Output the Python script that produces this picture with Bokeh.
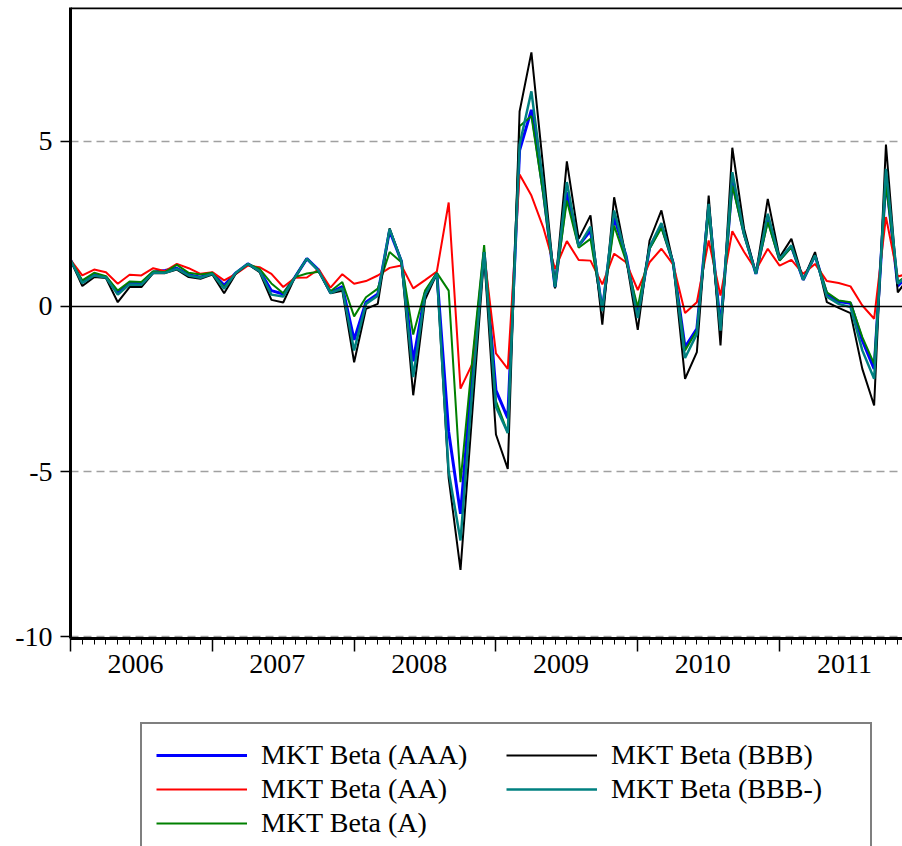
from bokeh.plotting import figure
from bokeh.layouts import column
from bokeh.models import (Range1d, FixedTicker, LinearAxis, Span, Legend,
                          LegendItem, ColumnDataSource, Grid)
from bokeh.embed import file_html
from bokeh.resources import INLINE

# ---------------- data (monthly, Jan 2006 .. Dec 2011) ----------------
month_index = list(range(72))
year_labels = ["2006", "2007", "2008", "2009", "2010", "2011"]

beta_aaa = [1.41, 0.74, 0.96, 0.89, 0.43, 0.71, 0.69, 1.04, 1.09, 1.16, 0.96, 0.89,
            1.01, 0.64, 1.02, 1.29, 1.09, 0.48, 0.38, 0.89, 1.45, 1.10, 0.42, 0.60,
            -1.01, 0.13, 0.38, 2.30, 1.37, -1.66, 0.40, 1.00, -3.80, -6.28, -2.00, 1.65,
            -2.54, -3.38, 4.73, 5.96, 3.50, 0.59, 3.46, 1.85, 2.30, -0.12, 2.71, 1.55,
            -0.30, 1.78, 2.45, 1.31, -1.23, -0.68, 3.01, -0.63, 3.77, 2.20, 0.99, 2.66,
            1.42, 1.82, 0.81, 1.55, 0.38, 0.15, 0.10, -1.03, -1.89, 3.87, 0.62, 1.00]
beta_aa = [1.41, 0.94, 1.12, 1.04, 0.69, 0.96, 0.94, 1.16, 1.07, 1.29, 1.16, 0.99,
           1.04, 0.79, 0.99, 1.24, 1.19, 0.99, 0.59, 0.87, 0.88, 1.13, 0.57, 0.98,
           0.69, 0.77, 0.94, 1.17, 1.24, 0.55, 0.80, 1.06, 3.15, -2.49, -1.74, 1.60,
           -1.42, -1.89, 4.00, 3.36, 2.40, 1.14, 1.98, 1.41, 1.39, 0.67, 1.60, 1.34,
           0.50, 1.34, 1.75, 1.27, -0.20, 0.13, 2.00, 0.33, 2.28, 1.65, 1.11, 1.75,
           1.24, 1.41, 0.99, 1.29, 0.77, 0.71, 0.61, 0.03, -0.37, 2.71, 0.91, 1.00]
beta_a = [1.41, 0.79, 1.02, 0.92, 0.48, 0.76, 0.74, 1.07, 1.04, 1.26, 1.02, 0.97,
          1.02, 0.59, 1.02, 1.29, 1.14, 0.70, 0.40, 0.89, 1.00, 1.05, 0.46, 0.74,
          -0.30, 0.28, 0.54, 1.65, 1.34, -0.85, 0.48, 1.02, 0.48, -5.32, -1.60, 1.86,
          -2.87, -3.83, 5.46, 5.77, 3.40, 0.59, 3.21, 1.78, 2.05, -0.12, 2.45, 1.39,
          -0.02, 1.75, 2.38, 1.31, -1.33, -0.73, 2.86, -0.73, 3.67, 2.15, 0.99, 2.56,
          1.39, 1.80, 0.81, 1.55, 0.43, 0.18, 0.13, -0.93, -1.74, 3.72, 0.74, 1.00]
beta_bbb = [1.41, 0.62, 0.89, 0.86, 0.13, 0.59, 0.59, 1.01, 1.01, 1.12, 0.89, 0.84,
            0.97, 0.40, 1.00, 1.29, 1.04, 0.20, 0.12, 0.89, 1.45, 1.07, 0.40, 0.48,
            -1.69, -0.07, 0.08, 2.37, 1.37, -2.69, 0.20, 1.00, -5.20, -7.98, -3.20, 1.54,
            -3.88, -4.92, 5.91, 7.70, 4.20, 0.55, 4.40, 2.05, 2.76, -0.55, 3.31, 1.49,
            -0.71, 2.00, 2.91, 1.31, -2.19, -1.38, 3.36, -1.18, 4.81, 2.35, 0.99, 3.26,
            1.49, 2.05, 0.81, 1.65, 0.13, -0.04, -0.20, -1.89, -3.00, 4.91, 0.43, 0.90]
beta_bbbm = [1.41, 0.71, 0.94, 0.88, 0.36, 0.67, 0.66, 1.02, 1.02, 1.14, 0.94, 0.87,
             0.99, 0.54, 1.02, 1.29, 1.07, 0.36, 0.30, 0.89, 1.45, 1.08, 0.41, 0.55,
             -1.33, 0.08, 0.33, 2.35, 1.37, -2.14, 0.35, 1.00, -5.00, -7.09, -2.50, 1.65,
             -3.04, -3.83, 4.90, 6.52, 3.70, 0.59, 3.77, 1.82, 2.42, -0.14, 2.91, 1.52,
             -0.35, 1.80, 2.53, 1.31, -1.56, -0.83, 3.11, -0.73, 4.07, 2.20, 0.99, 2.81,
             1.44, 1.85, 0.81, 1.55, 0.30, 0.08, -0.02, -1.33, -2.19, 4.17, 0.69, 1.00]

series_names = ["MKT Beta (AAA)", "MKT Beta (AA)", "MKT Beta (A)",
                "MKT Beta (BBB)", "MKT Beta (BBB-)"]
series_values = [beta_aaa, beta_aa, beta_a, beta_bbb, beta_bbbm]
series_colors = ["#0000FF", "#FF0000", "#008000", "#000000", "#008080"]
series_widths = [3, 2, 2, 2, 2.5]

y_ticks = [-10, -5, 0, 5]
y_tick_labels = ["-10", "-5", "0", "5"]
grid_ticks = [-10, -5, 5]

FONT = "Liberation Serif"

# ---------------- main chart ----------------
p = figure(width=902, height=700,
           x_range=Range1d(0, 70.4), y_range=Range1d(-10.06, 9.06),
           output_backend="svg", toolbar_location=None,
           x_axis_type=None, y_axis_type=None,
           min_border_left=70, min_border_right=0, min_border_top=7,
           min_border_bottom=62)
p.outline_line_color = None

grid = Grid(dimension=1, ticker=FixedTicker(ticks=grid_ticks),
            grid_line_color="#A0A0A0", grid_line_width=1.5,
            grid_line_dash="8 5")
p.add_layout(grid)

p.add_layout(Span(location=0, dimension="width", line_color="black", line_width=1.5))
p.add_layout(Span(location=9.06, dimension="width", line_color="black", line_width=3.5))

yax = LinearAxis(ticker=FixedTicker(ticks=y_ticks),
                 axis_line_width=3, major_tick_out=10, major_tick_in=0,
                 major_tick_line_width=1.5, minor_tick_line_color=None,
                 major_label_standoff=8,
                 major_label_overrides=dict(zip(y_ticks, y_tick_labels)),
                 major_label_text_font=FONT, major_label_text_font_size="28px",
                 major_label_text_color="black")
p.add_layout(yax, "left")

year_starts = [12 * k for k in range(7)]
xax = LinearAxis(ticker=FixedTicker(ticks=year_starts, minor_ticks=list(range(73))),
                 axis_line_width=3, major_tick_out=13, major_tick_in=0,
                 minor_tick_out=6, minor_tick_in=0,
                 major_tick_line_width=1.5, minor_tick_line_width=1,
                 major_label_overrides={t: "" for t in year_starts},
                 major_label_text_font_size="1px", major_label_standoff=0)
p.add_layout(xax, "below")

year_mids = [12 * k + 5.5 for k in range(6)]
xlab = LinearAxis(ticker=FixedTicker(ticks=year_mids),
                  axis_line_color=None, major_tick_line_color=None,
                  minor_tick_line_color=None, major_tick_out=0, major_tick_in=0,
                  major_label_overrides={m: y for m, y in zip(year_mids, year_labels)},
                  major_label_standoff=3,
                  major_label_text_font=FONT, major_label_text_font_size="28px",
                  major_label_text_color="black")
p.add_layout(xlab, "below")

sources = []
for name, vals, col, w in zip(series_names, series_values, series_colors, series_widths):
    src = ColumnDataSource(dict(x=month_index, y=vals))
    sources.append(src)
    p.line("x", "y", source=src, line_color=col, line_width=w)

# ---------------- legend panel ----------------
# The legend's own figure views a range far away from the data, so its
# lines (sharing the data sources) only appear as legend swatches.
q = figure(width=902, height=146, x_range=Range1d(0, 1), y_range=Range1d(1000, 1001),
           output_backend="svg", toolbar_location=None,
           x_axis_type=None, y_axis_type=None,
           min_border_left=0, min_border_right=0, min_border_top=0,
           min_border_bottom=0)
q.outline_line_color = None
q.xgrid.visible = False
q.ygrid.visible = False

legend_renderers = []
for src, col, w in zip(sources, series_colors, series_widths):
    r = q.line("x", "y", source=src, line_color=col, line_width=w)
    legend_renderers.append(r)

leg = Legend(items=[LegendItem(label=n, renderers=[r])
                    for n, r in zip(series_names, legend_renderers)],
             nrows=3, location=(70, -10),
             border_line_color="black", border_line_width=2,
             background_fill_color="white", background_fill_alpha=1.0,
             label_text_font=FONT, label_text_font_size="28px",
             label_text_color="black",
             padding=14, spacing=0, margin=0, label_height=34, glyph_height=34,
             glyph_width=91, label_standoff=14, label_width=245)
q.add_layout(leg)

layout = column(p, q, spacing=0)
open("out.html", "w").write(file_html(layout, INLINE))
